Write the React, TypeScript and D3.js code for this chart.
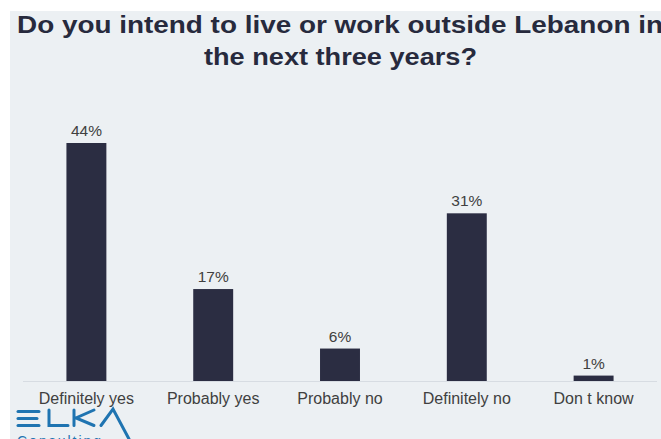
import React from 'react';
import * as d3 from 'd3';

const categories = ['Definitely yes', 'Probably yes', 'Probably no', 'Definitely no', 'Don t know'];
const values = [44, 17, 6, 31, 1];
const titleLines = ['Do you intend to live or work outside Lebanon in', 'the next three years?'];

const W = 661;
const H = 439;

const App: React.FC = () => {
  const x = d3.scaleBand<string>()
    .domain(categories)
    .range([23, 657])
    .paddingInner(0.685)
    .paddingOuter(0.3425);

  const y = d3.scaleLinear().domain([0, 44]).range([381, 143]);

  const font = 'Liberation Sans, Arial, sans-serif';

  return (
    <svg width={W} height={H} style={{ position: 'absolute', left: 0, top: 0, display: 'block' }}>
      <rect x={0} y={0} width={W} height={H} fill="#ffffff" />
      {/* panel */}
      <rect x={10} y={11} width={W - 10} height={H - 11} fill="#ecf0f3" />

      {/* title */}
      <text x={340} y={33} textAnchor="middle" fontFamily={font} fontWeight="bold" fontSize={23}
        fill="#272a3d" textLength={646} lengthAdjust="spacingAndGlyphs">{titleLines[0]}</text>
      <text x={340.5} y={64.5} textAnchor="middle" fontFamily={font} fontWeight="bold" fontSize={23}
        fill="#272a3d" textLength={273} lengthAdjust="spacingAndGlyphs">{titleLines[1]}</text>

      {/* baseline */}
      <line x1={23} x2={657} y1={381.5} y2={381.5} stroke="#d7dce2" strokeWidth={1} />

      {/* bars */}
      {categories.map((c, i) => (
        <g key={c}>
          <rect x={x(c)} y={y(values[i])} width={x.bandwidth()} height={y(0) - y(values[i])}
            fill="#2b2d42" />
          <text x={(x(c) ?? 0) + x.bandwidth() / 2} y={y(values[i]) - 7} textAnchor="middle"
            fontFamily={font} fontSize={15.5} fill="#404040">{values[i]}%</text>
          <text x={(x(c) ?? 0) + x.bandwidth() / 2} y={403.5} textAnchor="middle"
            fontFamily={font} fontSize={16} fill="#404040">{c}</text>
        </g>
      ))}

      {/* ELKA logo */}
      <g stroke="#1f74b1" strokeWidth={3} fill="none" strokeLinecap="round">
        <line x1={18} x2={39} y1={411.5} y2={411.5} />
        <line x1={18} x2={37} y1={418.5} y2={418.5} />
        <line x1={18} x2={39} y1={425.5} y2={425.5} />
        <path d="M49,410 L49,425.5 L68,425.5" />
        <path d="M74,410 L74,425.5 M94,410 L76,418 L94,425.5" />
        <path d="M101,425.5 L113,409 L129,439" />
      </g>
      <text x={17} y={446} fontFamily={font} fontSize={14} fill="#1f74b1" letterSpacing={2}>Consulting</text>
    </svg>
  );
};

export default App;
